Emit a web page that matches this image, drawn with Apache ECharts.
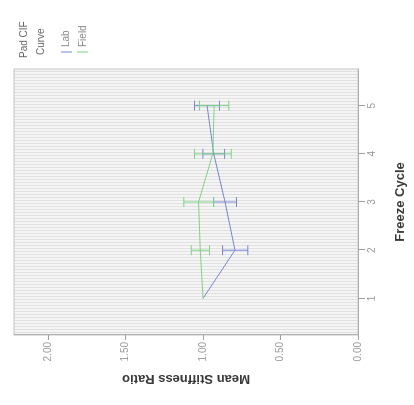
<!DOCTYPE html>
<html>
<head>
<meta charset="utf-8">
<script src="https://cdn.jsdelivr.net/npm/echarts@6/dist/echarts.min.js"></script>
<style>
html, body { margin: 0; padding: 0; width: 414px; height: 405px; overflow: hidden; background: #ffffff; }
#chart { position: absolute; left: 0; top: 405px; width: 405px; height: 414px; transform: rotate(-90deg); transform-origin: 0 0; }
</style>
</head>
<body>
<div id="chart"></div>
<script>
// ---- data ----
const categories = [1, 2, 3, 4, 5];
const seriesNames = ['Lab', 'Field'];
const legendTitle = ['Pad CIF', 'Curve'];
const labMean  = [1.00, 0.794, 0.858, 0.931, 0.974];
const labLow   = [1.00, 0.711, 0.784, 0.861, 0.894];
const labHigh  = [1.00, 0.874, 0.932, 1.001, 1.055];
const fieldMean = [1.00, 1.018, 1.029, 0.937, 0.928];
const fieldLow  = [1.00, 0.958, 0.932, 0.818, 0.834];
const fieldHigh = [1.00, 1.076, 1.124, 1.055, 1.023];
const valueTicks = [0, 0.5, 1.0, 1.5, 2.0];

// ---- styling ----
const FONT = 'Arial, "Liberation Sans", sans-serif';
const BLUE = '#7686d4';
const GREEN = '#7ad682';

function stripePattern() {
  const c = document.createElement('canvas');
  c.width = 3; c.height = 4;
  const ctx = c.getContext('2d');
  ctx.fillStyle = '#f5f5f5'; ctx.fillRect(0, 0, 3, 4);
  ctx.fillStyle = '#e0e0e0'; ctx.fillRect(0, 0, 1, 4);
  return { image: c, repeat: 'repeat' };
}

function errorSeries(name, low, high, color) {
  return {
    type: 'custom',
    name: name + ' error',
    data: categories.map((c, i) => [c, low[i], high[i]]),
    z: 3,
    renderItem: function (params, api) {
      const x = api.value(0);
      const lo = api.coord([x, api.value(1)]);
      const hi = api.coord([x, api.value(2)]);
      if (Math.abs(lo[1] - hi[1]) < 0.5) return null;
      const w = 5;
      const st = { stroke: color, lineWidth: 1 };
      return {
        type: 'group',
        children: [
          { type: 'line', shape: { x1: lo[0], y1: lo[1], x2: hi[0], y2: hi[1] }, style: st },
          { type: 'line', shape: { x1: lo[0] - w, y1: lo[1], x2: lo[0] + w, y2: lo[1] }, style: st },
          { type: 'line', shape: { x1: hi[0] - w, y1: hi[1], x2: hi[0] + w, y2: hi[1] }, style: st }
        ]
      };
    }
  };
}

const chart = echarts.init(document.getElementById('chart'), null, { width: 405, height: 414 });

const option = {
  animation: false,
  backgroundColor: '#ffffff',
  textStyle: { fontFamily: FONT },
  grid: {
    left: 70, right: 69, top: 14, bottom: 56,
    show: true,
    backgroundColor: stripePattern(),
    borderColor: '#c4c4c4',
    borderWidth: 1
  },
  xAxis: {
    type: 'value',
    min: 0.24, max: 5.76,
    position: 'bottom',
    axisLine: { show: true, onZero: false, lineStyle: { color: '#b0b0b0' } },
    axisTick: { show: true, length: 7, customValues: categories, lineStyle: { color: '#a0a0a0' } },
    axisLabel: { customValues: categories, fontSize: 10, color: '#999', margin: 9, fontFamily: FONT },
    splitLine: { show: false },
    name: 'Freeze Cycle',
    nameLocation: 'middle',
    nameGap: 36,
    nameTextStyle: { fontSize: 13, fontWeight: 'bold', color: '#3a3a3a', fontFamily: FONT }
  },
  yAxis: {
    type: 'value',
    min: 0, max: 2.22,
    position: 'left',
    axisLine: { show: true, onZero: false, lineStyle: { color: '#b0b0b0' } },
    axisTick: { show: true, length: 5, customValues: valueTicks, lineStyle: { color: '#a0a0a0' } },
    axisLabel: { customValues: valueTicks, fontSize: 10, color: '#999', margin: 7, fontFamily: FONT,
      formatter: v => Number(v).toFixed(2) },
    splitLine: { show: false },
    name: 'Mean Stiffness Ratio',
    nameLocation: 'middle',
    nameRotate: 90,
    nameGap: 37,
    nameTextStyle: { fontSize: 13, fontWeight: 'bold', color: '#3a3a3a', fontFamily: FONT }
  },
  series: [
    {
      type: 'line', name: seriesNames[0],
      data: categories.map((c, i) => [c, labMean[i]]),
      symbol: 'none', lineStyle: { color: BLUE, width: 1 }, z: 4
    },
    {
      type: 'line', name: seriesNames[1],
      data: categories.map((c, i) => [c, fieldMean[i]]),
      symbol: 'none', lineStyle: { color: GREEN, width: 1 }, z: 5
    },
    errorSeries(seriesNames[0], labLow, labHigh, BLUE),
    errorSeries(seriesNames[1], fieldLow, fieldHigh, GREEN)
  ],
  graphic: [
    { type: 'text', left: 347, top: 19, style: { text: legendTitle[0], fontSize: 10, fill: '#666', fontFamily: FONT } },
    { type: 'text', left: 350, top: 36, style: { text: legendTitle[1], fontSize: 10, fill: '#666', fontFamily: FONT } },
    { type: 'line', shape: { x1: 353, y1: 61, x2: 353, y2: 72 }, style: { stroke: BLUE, lineWidth: 1 } },
    { type: 'text', left: 358, top: 61, style: { text: seriesNames[0], fontSize: 10, fill: '#888', fontFamily: FONT } },
    { type: 'line', shape: { x1: 353, y1: 77, x2: 353, y2: 88 }, style: { stroke: GREEN, lineWidth: 1 } },
    { type: 'text', left: 358, top: 78, style: { text: seriesNames[1], fontSize: 10, fill: '#888', fontFamily: FONT } }
  ]
};

chart.setOption(option);
</script>
</body>
</html>
